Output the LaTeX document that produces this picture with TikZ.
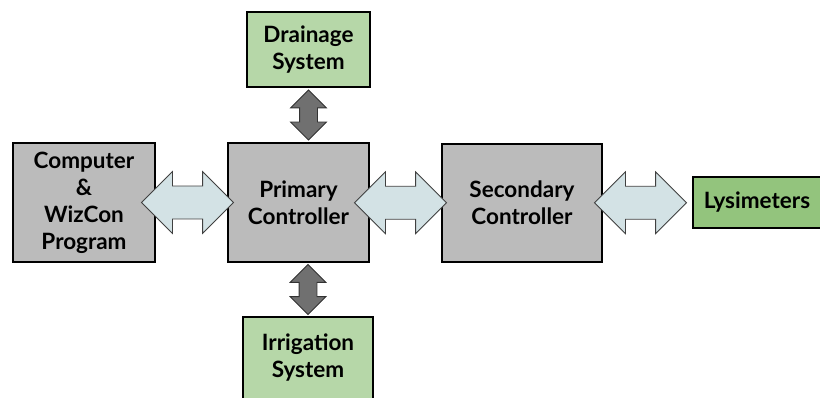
\documentclass[tikz,border=0pt]{standalone}
\usepackage{fontspec}
\setmainfont{Lato}
\usetikzlibrary{calc}
\usetikzlibrary{shapes.arrows}

\definecolor{unitgray}{HTML}{BBBBBB}
\definecolor{systemgreen}{HTML}{B6D7A8}
\definecolor{lysgreen}{HTML}{93C47D}
\definecolor{linkblue}{HTML}{D3E2E5}
\definecolor{signalgray}{HTML}{707070}

\begin{document}
\begin{tikzpicture}[x=0.025cm, y=-0.025cm]
    \tikzstyle{unit}=[draw, line width=1.4pt, fill=unitgray, align=center, inner sep=0pt,
      font=\fontsize{16}{19.2}\selectfont\bfseries]
    \tikzstyle{system}=[unit, fill=systemgreen]
    \tikzstyle{link}=[draw=black!75, line width=0.6pt, fill=linkblue, double arrow,
      double arrow tip angle=90, inner xsep=0pt, inner ysep=0.4cm,
      double arrow head extend=0.3625cm, minimum height=2.3cm]
    \tikzstyle{signal}=[link, draw=black!80, fill=signalgray, inner ysep=0.2125cm,
      double arrow head extend=0.225cm, minimum height=1.25cm, rotate=90]

    \useasboundingbox (0,0) rectangle (820,398);

    % Controllers
    \node[unit, minimum width=3.55cm, minimum height=2.975cm] (comp) at (84, 202.5)
      {Computer\\\&\\WizCon\\Program};
    \node[unit, minimum width=3.525cm, minimum height=2.975cm] (prim) at (298.5, 202.5)
      {Primary\\Controller};
    \node[unit, minimum width=4cm, minimum height=2.95cm] (sec) at (522, 203)
      {Secondary\\Controller};

    % Field systems
    \node[system, fill=lysgreen, minimum width=3.2cm, minimum height=1.275cm] (lys) at (757, 202.5)
      {Lysimeters};
    \node[system, minimum width=3.075cm, minimum height=1.875cm] (drain) at (308.5, 49.5)
      {Drainage\\System};
    \node[system, minimum width=3.25cm, minimum height=2.05cm] (irr) at (308, 358)
      {Irrigation\\System};

    % Links
    \node[link] (l1) at ($(comp.east)!0.5!(prim.west) + (-4, 0)$) {};
    \node[link] (l2) at ($(prim.east)!0.5!(sec.west) + (-5, 0)$) {};
    \node[link] (l3) at ($(sec.east)!0.5!(lys.west) + (-7, 0)$) {};
    \node[signal] (s1) at ($(drain.south)!0.5!(drain.south |- prim.north)$) {};
    \node[signal] (s2) at ($(irr.north |- prim.south)!0.5!(irr.north)$) {};
  \end{tikzpicture}
\end{document}
